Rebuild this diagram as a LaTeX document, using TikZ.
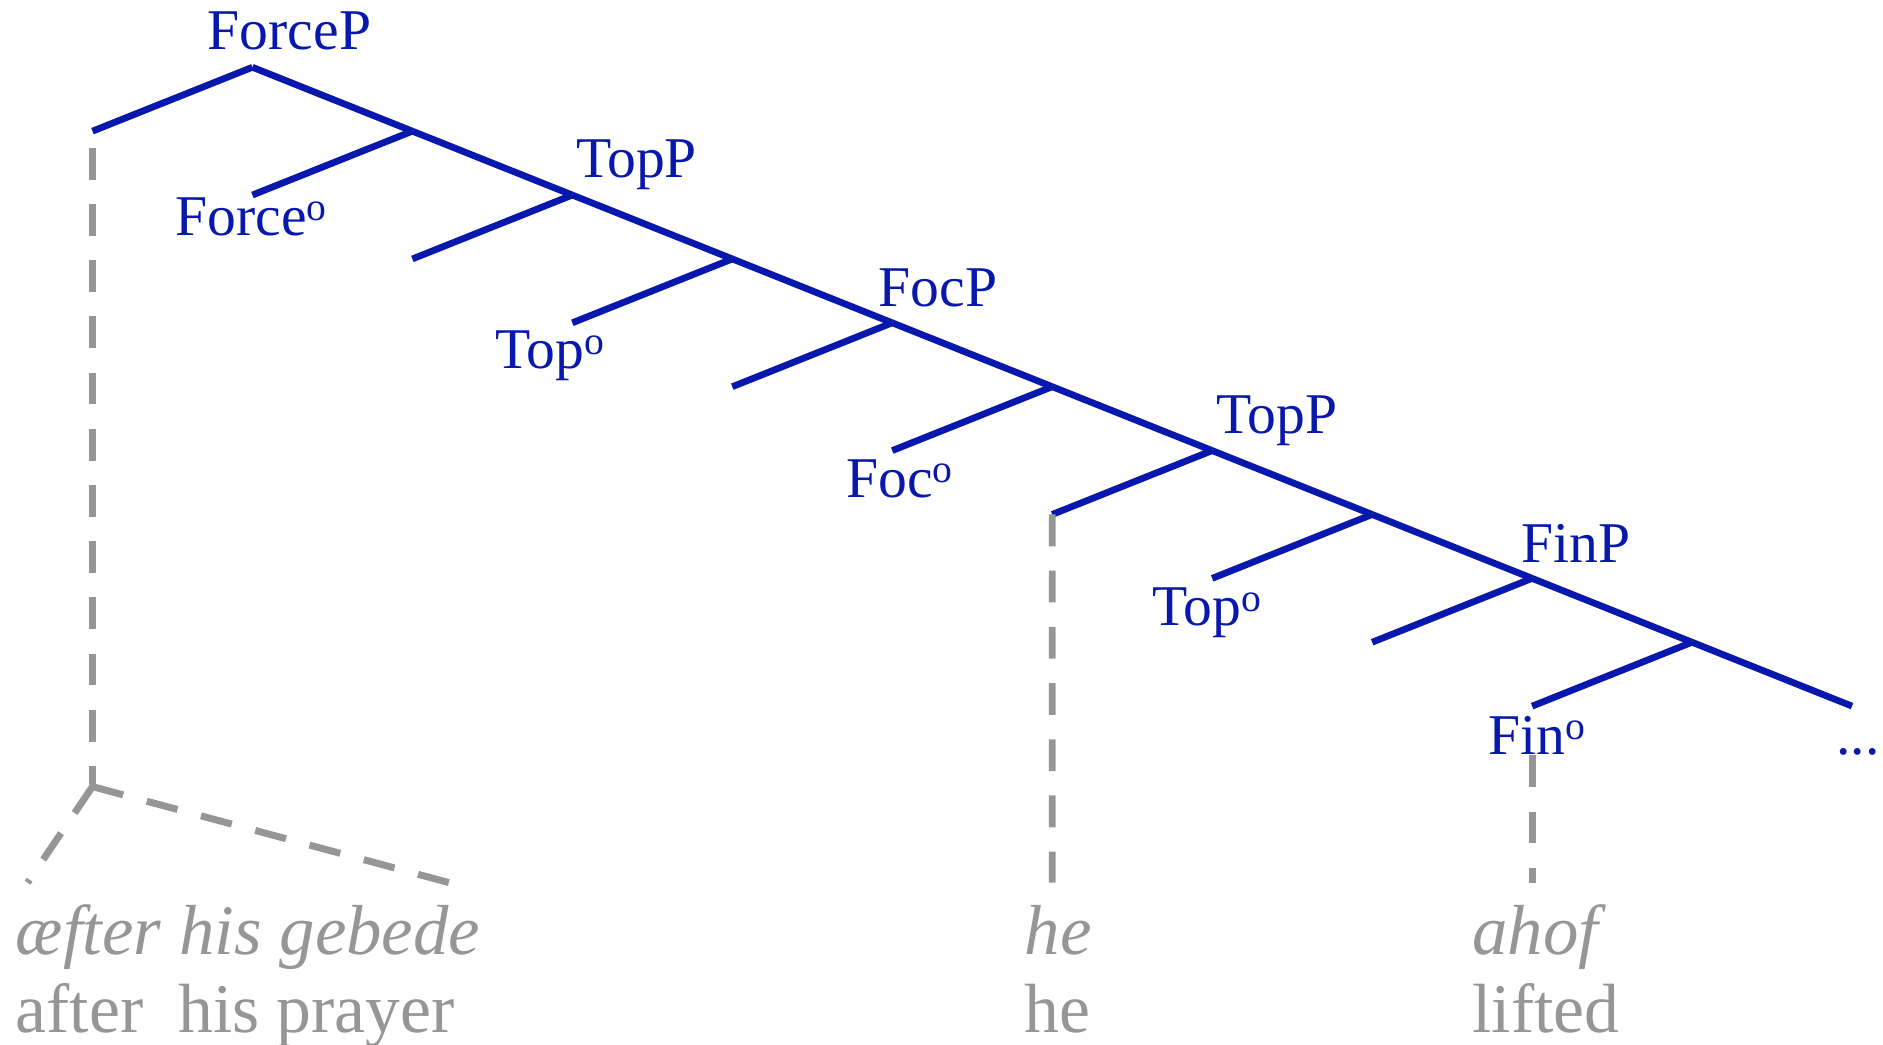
\documentclass[tikz,border=0pt]{standalone}
\usepackage{fontspec}
\setmainfont{Liberation Serif}
\definecolor{treeblue}{RGB}{8,24,172}
\definecolor{glossgrey}{RGB}{150,150,150}
\newcommand\headmark{\raisebox{12pt}{\fontsize{33}{33}\selectfont o}}
\begin{document}
\begin{tikzpicture}[x=1pt,y=-1pt,
  branch/.style={treeblue, line width=5.6pt, line cap=butt},
  trace/.style={glossgrey, line width=5.8pt, line cap=butt, dash pattern=on 26.5pt off 20.3pt},
  lab/.style={treeblue, font=\fontsize{48}{56}\selectfont, inner sep=0pt, anchor=base},
  gl/.style={glossgrey, font=\fontsize{58}{66}\selectfont, inner sep=0pt, anchor=base west},
  glit/.style={gl, font=\fontsize{59}{66}\selectfont\itshape},
]
\useasboundingbox (0,0) rectangle (1568,870);

% spine nodes s0..s10 and left daughters d0..d9
\foreach \r in {0,...,10} {
  \coordinate (s\r) at ({77+133.2*(\r+1)},{56+53.2*\r});
}
\foreach \r in {0,...,9} {
  \coordinate (d\r) at ({77+133.2*\r},{56+53.2*(\r+1)});
}
\foreach \r in {0,...,9} {
  \pgfmathtruncatemacro\nx{\r+1}
  \draw[branch] (s\r) -- (d\r);
  \draw[branch] (s\r) -- (s\nx);
}

% labels
\node[lab] (forceP) at (241,41) {ForceP};
\node[lab] (force0) at (209,196) {Force\headmark};
\node[lab] (topP1) at (530,148) {TopP};
\node[lab] (top01) at (458,307) {Top\headmark};
\node[lab] (focP) at (781,255) {FocP};
\node[lab] (foc0) at (749,414) {Foc\headmark};
\node[lab] (topP2) at (1063,361) {TopP};
\node[lab] (top02) at (1005,521) {Top\headmark};
\node[lab] (finP) at (1312,468) {FinP};
\node[lab] (fin0) at (1280,628) {Fin\headmark};
\node[lab] (dots) at (1547,628) {...};

% traces (dashed)
\coordinate (t0) at (77,123);
\coordinate (v) at (77,655);
\coordinate (vl) at (23,735);
\coordinate (vr) at (374,735);
\coordinate (heend) at (876.2,735);
\coordinate (fintop) at (1275.8,629);
\coordinate (finend) at (1275.8,735);
\draw[trace] (t0) -- (v);
\draw[trace] (v) -- (vl);
\draw[trace] (v) -- (vr);
\draw[trace] (d6) -- (heend);
\draw[trace] (fintop) -- (finend);

% glosses
\node[glit] (oe1) at (13,795) {æfter his gebede};
\node[gl] (pe1) at (13,860) {after\ \ his prayer};
\node[glit] (oe2) at (853,795) {he};
\node[gl] (pe2) at (853,860) {he};
\node[glit] (oe3) at (1226,795) {ahof};
\node[gl] (pe3) at (1226,860) {lifted};
\end{tikzpicture}
\end{document}
